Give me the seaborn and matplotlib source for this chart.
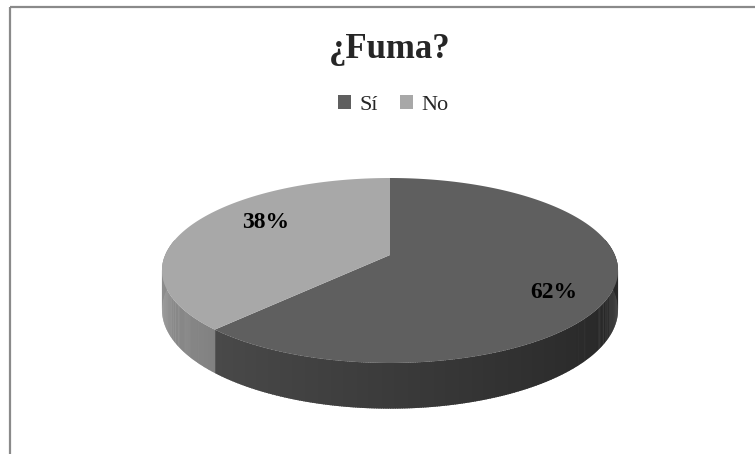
import numpy as np
import matplotlib
matplotlib.use("Agg")
import matplotlib.pyplot as plt
import matplotlib.colors as mcolors
import matplotlib.transforms as mtransforms
from matplotlib.path import Path
from matplotlib.patches import Polygon, Patch
import seaborn as sns

# Data
categories = ["Sí", "No"]
values = [62, 38]
colors = ["#5f5f5f", "#a8a8a8"]
title = "¿Fuma?"

# label spots on the disk (pie coordinates)
label_pos = [(0.68, -0.39), (-0.59, 0.39)]


# 3D look: tilted disk seen in perspective
class DiskPerspective(mtransforms.Transform):
    input_dims = 2
    output_dims = 2

    def __init__(self, cx, cy, sx, sy, k, drop=0.0):
        super().__init__()
        self.cx, self.cy, self.sx, self.sy = cx, cy, sx, sy
        self.k, self.drop = k, drop

    def transform_non_affine(self, values):
        values = np.asarray(values, dtype=float)
        x, z = values[:, 0], values[:, 1]
        w = 1 + self.k * z
        X = self.cx + self.sx * x / w
        Y = self.cy - self.sy * z / w + self.drop / w
        return np.column_stack([X, Y])

    def transform_path_non_affine(self, path):
        # sample the curves finely before bending them
        pts = []
        for bez, code in path.iter_bezier():
            if code == Path.MOVETO:
                pts.append(bez.control_points[-1:])
            else:
                pts.append(bez(np.linspace(0, 1, 24))[1:])
        pts = np.vstack(pts)
        return Path(self.transform_non_affine(pts))


sns.set_style("white")
plt.rcParams["font.family"] = ["Liberation Serif", "DejaVu Serif"]

W, H = 755, 454
fig = plt.figure(figsize=(W / 100, H / 100), dpi=100)
ax = fig.add_axes([0, 0, 1, 1])

# frame of the original (cropped) chart area
ax.plot([9.5, 9.5], [H, 7], color="#8a8a8a", lw=1.6, solid_capstyle="butt")
ax.plot([9.5, W], [7, 7], color="#8a8a8a", lw=1.6, solid_capstyle="butt")

top = DiskPerspective(390, 255, 224.8, 89.9, 0.1676)
bot = DiskPerspective(390, 255, 224.8, 89.9, 0.1676, drop=38)

wedges, texts, autotexts = ax.pie(
    values,
    colors=colors,
    startangle=90,
    counterclock=False,
    autopct="%1.0f%%",
    pctdistance=0.75,
    wedgeprops=dict(linewidth=0, zorder=3),
    textprops=dict(fontsize=17, fontweight="bold", color="black", zorder=5),
)
for w in wedges:
    w.set_transform(top + ax.transData)
for t, p in zip(autotexts, label_pos):
    t.set_position(p)
    t.set_transform(top + ax.transData)

ax.set_aspect("auto")
ax.set_xlim(0, W)
ax.set_ylim(H, 0)
ax.axis("off")

# extruded side, coloured by the wedge it belongs to
spans = [(w.theta1, w.theta2, c) for w, c in zip(wedges, colors)]


def wedge_color(t):
    for t1, t2, c in spans:
        if (t - t1) % 360 <= (t2 - t1):
            return c
    return spans[0][2]


ts = np.linspace(170, 370, 401)
for a0, a1 in zip(ts[:-1], ts[1:]):
    tm = 0.5 * (a0 + a1)
    base = np.array(mcolors.to_rgb(wedge_color(tm)))
    f = 0.62 - 0.22 * np.cos(np.radians(tm))
    col = np.clip(base * f, 0, 1)
    r = np.radians([a0, a1 + 0.3])
    circ = np.column_stack([np.cos(r), np.sin(r)])
    up = top.transform_non_affine(circ)
    dn = bot.transform_non_affine(circ)
    pts = np.vstack([up, dn[::-1]])
    ax.add_patch(Polygon(pts, closed=True, facecolor=col, edgecolor="none", zorder=1))

# title and legend
ax.text(390, 58, title, ha="center", va="baseline", fontsize=25, fontweight="bold")
handles = [Patch(facecolor=c, edgecolor="none") for c in colors]
fig.legend(handles, categories, loc="center", bbox_to_anchor=(393 / W, 1 - 105 / H),
           ncol=2, frameon=False, fontsize=16, handlelength=0.6, handleheight=0.6,
           handletextpad=0.35, columnspacing=1.0)

fig.savefig("out.png", dpi=100)
